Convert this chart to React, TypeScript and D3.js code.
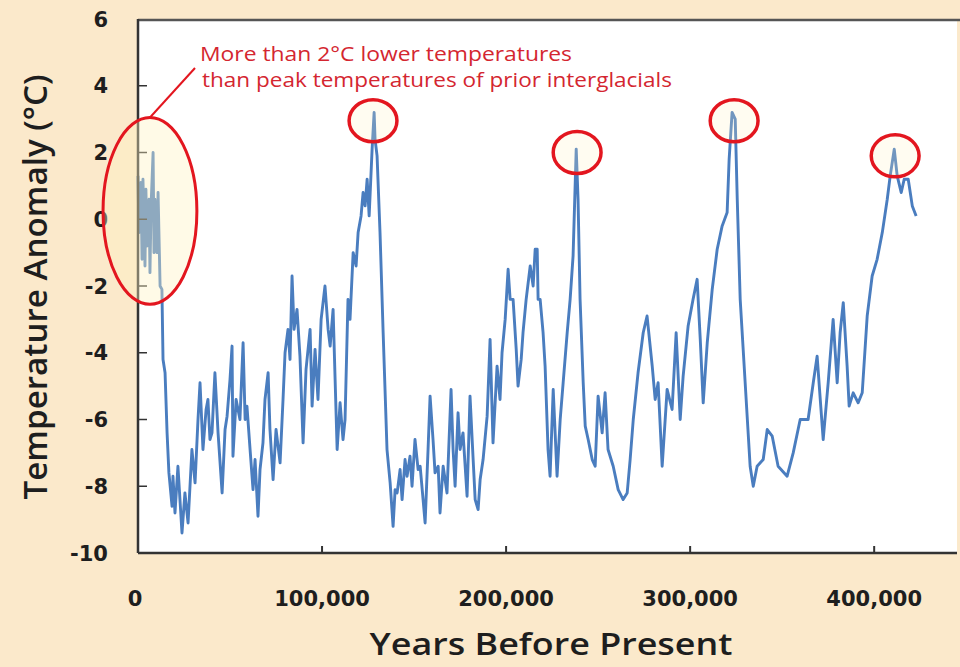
import * as d3 from 'd3';

// Vostok-style temperature anomaly record
const years = [
  0, 500, 1600, 2200, 2700, 3800, 4300, 4900, 6000, 6500, 7100, 8200, 8700, 9200, 10300, 10900,
  12000, 13000, 13600, 14700, 15800, 16800, 18500, 19000, 20100, 21700, 22800, 23900, 25500, 27200,
  29300, 31000, 32600, 33700, 35300, 37000, 38000, 39100, 40200, 41800, 43500, 45700, 47300, 48400,
  50000, 51100, 51600, 53300, 55400, 57100, 58200, 59200, 60900, 62500, 63600, 65200, 66300, 67900,
  69000, 70700, 71700, 73400, 75000, 77200, 78800, 79900, 81500, 82600, 83700, 84800, 86400, 88000,
  89700, 91300, 93500, 94600, 96200, 97800, 99500, 101600, 103300, 104400, 106000, 107100, 108200,
  109800, 111400, 112500, 114100, 115200, 116900, 118500, 119600, 121200, 122300, 123400, 124500,
  125600, 127200, 128300, 128800, 129900, 131500, 133200, 135300, 137000, 138600, 139700, 140800,
  142400, 143500, 145100, 146200, 147800, 148900, 150500, 152200, 153300, 154900, 156000, 157600,
  158700, 160300, 161400, 163100, 164100, 165800, 167900, 170100, 171200, 172300, 173900, 175000,
  176600, 178800, 180400, 182100, 183200, 184800, 185900, 187500, 189700, 191300, 192900, 195100,
  196700, 197800, 199500, 201100, 202200, 203800, 205500, 206500, 208200, 209200, 210900, 213100,
  214700, 215800, 216900, 217400, 218500, 220100, 221200, 222800, 223900, 225600, 227700, 229400,
  231000, 233200, 234800, 236400, 238100, 239100, 240200, 241900, 243000, 244600, 246800, 248400,
  250000, 252200, 253800, 255400, 258200, 260900, 263600, 265800, 267400, 269100, 271700, 274500,
  276600, 279400, 281000, 282600, 284800, 287500, 290200, 292400, 294600, 296200, 298900, 301600,
  303800, 305500, 307100, 309300, 312000, 314700, 317400, 320100, 321200, 322800, 324500, 325600,
  327200, 329900, 332600, 334300, 336400, 339700, 341900, 344600, 347800, 352700, 356000, 359800,
  364100, 366900, 369000, 370700, 372300, 375000, 377700, 379900, 381500, 383200, 385300, 386400,
  388600, 391300, 393500, 396200, 398900, 401600, 404400, 407100, 408700, 410900, 412500, 414700,
  416300, 418500, 420700, 422800,
];
const anomaly = [
  1.3, -0.4, 1.1, -1.2, 1.2, -1.4, 0.9, -0.8, 0.6, -1.6, 0.4, 2.0, -1.0, 0.6, -1.0, 0.8,
  -2.0, -2.1, -4.2, -4.6, -6.4, -7.6, -8.6, -7.7, -8.8, -7.4, -8.4, -9.4, -8.2, -9.1,
  -6.9, -7.9, -6.0, -4.9, -6.9, -5.7, -5.4, -6.6, -6.4, -4.6, -6.4, -8.2, -6.3, -5.9,
  -4.8, -3.8, -7.1, -5.4, -6.0, -3.7, -6.0, -5.6, -6.9, -8.1, -7.2, -8.9, -7.5, -6.7,
  -5.4, -4.6, -6.3, -7.8, -6.3, -7.3, -5.4, -4.0, -3.3, -4.2, -1.7, -3.3, -2.7, -4.1,
  -6.7, -4.5, -3.3, -5.6, -3.9, -5.4, -3.0, -2.0, -3.3, -3.8, -2.7, -4.8, -6.9,
  -5.5, -6.6, -6.0, -2.4, -3.0, -1.0, -1.4, -0.4, 0.1, 0.8, 0.4, 1.2,
  0.1, 2.1, 3.2, 2.4, 1.9, -0.4, -3.4, -6.9, -7.9, -9.2, -8.1, -8.2,
  -7.5, -8.4, -7.2, -7.7, -7.1, -8.0, -6.6, -7.5, -7.4, -8.4, -9.1, -6.9,
  -5.3, -6.6, -7.6, -7.4, -8.8, -7.4, -8.2, -5.1, -6.9, -8.0, -5.8, -6.9,
  -6.4, -8.3, -5.3, -7.2, -8.4, -8.7, -7.8, -7.2, -5.9, -3.6, -6.7, -4.4,
  -5.4, -4.0, -3.0, -1.5, -2.4, -2.4, -3.9, -5.0, -4.2, -3.4, -2.4, -1.4,
  -2.0, -0.9, -0.9, -2.4, -2.4, -3.4, -4.4, -6.9, -7.7, -5.1, -7.7, -6.0,
  -4.9, -3.4, -2.4, -1.1, 2.1, 0.6, -2.4, -4.9, -6.2, -6.6, -7.2, -7.4,
  -5.3, -6.4, -5.2, -6.9, -7.4, -8.1, -8.4, -8.2, -7.2, -6.0, -4.6, -3.4,
  -2.9, -4.4, -5.4, -4.9, -7.4, -5.1, -5.7, -3.4, -6.0, -4.7, -3.2, -2.4,
  -1.8, -3.6, -5.5, -3.7, -2.1, -0.9, -0.2, 0.2, 1.8, 3.2, 3.0, 0.6,
  -2.4, -4.9, -7.4, -8.0, -7.4, -7.2, -6.3, -6.5, -7.4, -7.7, -7.0, -6.0,
  -6.0, -4.9, -4.1, -5.4, -6.6, -4.9, -3.0, -4.9, -3.4, -2.5, -4.4, -5.6,
  -5.2, -5.5, -5.2, -2.9, -1.7, -1.2, -0.4, 0.6, 1.3, 2.1, 1.3, 0.8,
  1.2, 1.2, 0.4, 0.1,
];

const yTicks = [-10, -8, -6, -4, -2, 0, 2, 4, 6];
const xTicks = [0, 100000, 200000, 300000, 400000];

// interglacial peaks that get a red ring
const peakYears = [127700, 238600, 323900, 411400];
const peakTemps = [2.95, 2.0, 2.95, 1.9];

const noteLines = [
  'More than 2°C lower temperatures',
  'than peak temperatures of prior interglacials',
];
const noteWidths = [372, 470];

const W = 960;
const H = 667;
const LINE_BLUE = '#4a7dbf';
const RING_RED = '#e3161f';
const NOTE_RED = '#d42630';
const INK = '#1e1e1e';

export default function App() {
  const left = 138;
  const right = 957;
  const top = 19;
  const bottom = 553;

  const x = d3.scaleLinear().domain([0, 445000]).range([left, right]);
  const y = d3.scaleLinear().domain([-10, 6]).range([bottom, top]);

  const pts: [number, number][] = years.map((yr, i) => [yr, anomaly[i]]);
  const path = d3
    .line<[number, number]>()
    .x((d) => x(d[0]))
    .y((d) => y(d[1]))(pts);

  // Holocene ellipse (data coords)
  const ecx = x(6500);
  const ecy = y(0.25);
  const erx = x(25500) - x(0);
  const ery = y(0) - y(2.8);

  const ringRx = x(13000) - x(0);
  const ringRy = y(0) - y(0.63);

  return (
    <svg
      width={W}
      height={H}
      style={{ position: 'absolute', left: 0, top: 0, display: 'block' }}
    >
      <rect x={0} y={0} width={W} height={H} fill="#fbe9cb" />
      <rect x={left} y={top} width={right - left} height={bottom - top} fill="#ffffff" />

      <path
        d={path ?? ''}
        fill="none"
        stroke={LINE_BLUE}
        strokeWidth={2.9}
        strokeLinejoin="round"
      />

      {/* frame */}
      <line x1={left} x2={W} y1={top + 1} y2={top + 1} stroke="#555" strokeWidth={2.5} />
      <line x1={left} x2={left} y1={top} y2={bottom} stroke="#333" strokeWidth={2.5} />
      <line x1={left} x2={right} y1={bottom} y2={bottom} stroke="#333" strokeWidth={2.5} />

      {yTicks.map((t) => (
        <g key={'y' + t}>
          {t > -10 && t < 6 && (
            <line x1={left} x2={left + 9} y1={y(t)} y2={y(t)} stroke="#333" strokeWidth={1.5} />
          )}
          <text
            x={108}
            y={y(t)}
            dy="0.36em"
            textAnchor="end"
            fontFamily="DejaVu Sans"
            fontWeight={700}
            fontSize={21}
            fill={INK}
          >
            {t}
          </text>
        </g>
      ))}

      {xTicks.map((t) => (
        <g key={'x' + t}>
          {t > 0 && (
            <line x1={x(t)} x2={x(t)} y1={bottom} y2={bottom - 7} stroke="#333" strokeWidth={2} />
          )}
          <text
            x={t === 0 ? x(t) - 3 : x(t)}
            y={606}
            textAnchor="middle"
            fontFamily="DejaVu Sans"
            fontWeight={700}
            fontSize={21}
            fill={INK}
          >
            {d3.format(',')(t)}
          </text>
        </g>
      ))}

      {/* highlight of the present interglacial */}
      <ellipse cx={ecx} cy={ecy} rx={erx} ry={ery} fill="#fff3c0" fillOpacity={0.38} />
      <ellipse cx={ecx} cy={ecy} rx={erx} ry={ery} fill="none" stroke={RING_RED} strokeWidth={3} />

      {peakYears.map((py, i) => (
        <ellipse
          key={'p' + i}
          cx={x(py)}
          cy={y(peakTemps[i])}
          rx={ringRx}
          ry={ringRy}
          fill="#fff3c0"
          fillOpacity={0.22}
          stroke={RING_RED}
          strokeWidth={3.5}
        />
      ))}

      <line
        x1={ecx}
        y1={ecy - ery}
        x2={195}
        y2={68}
        stroke={RING_RED}
        strokeWidth={2}
      />
      {noteLines.map((s, i) => (
        <text
          key={s}
          x={200 + i * 2}
          y={61 + i * 26}
          fontFamily="Open Sans"
          fontSize={20.5}
          textLength={noteWidths[i]}
          lengthAdjust="spacingAndGlyphs"
          fill={NOTE_RED}
        >
          {s}
        </text>
      ))}

      <text
        x={551}
        y={655}
        textAnchor="middle"
        fontFamily="Open Sans"
        fontWeight={600}
        fontSize={31}
        textLength={363}
        lengthAdjust="spacingAndGlyphs"
        fill={INK}
      >
        Years Before Present
      </text>
      <text
        transform={`translate(47, 287) rotate(-90)`}
        textAnchor="middle"
        fontFamily="Open Sans"
        fontWeight={600}
        fontSize={32}
        textLength={425}
        lengthAdjust="spacingAndGlyphs"
        fill={INK}
      >
        Temperature Anomaly (°C)
      </text>
    </svg>
  );
}
